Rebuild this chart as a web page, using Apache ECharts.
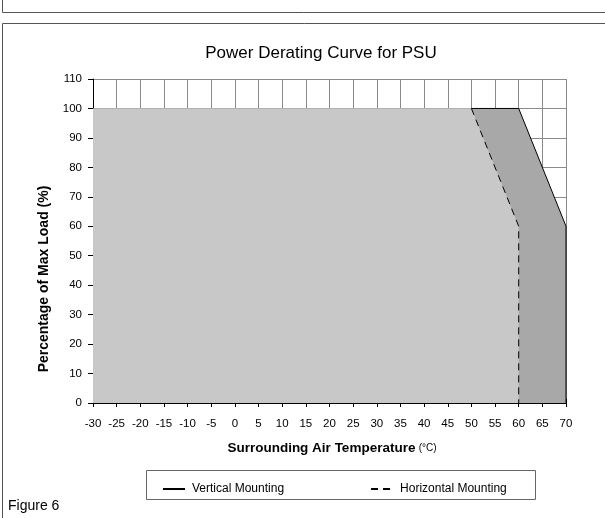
<!DOCTYPE html>
<html>
<head>
<meta charset="utf-8">
<script src="https://cdn.jsdelivr.net/npm/echarts@6/dist/echarts.min.js"></script>
<style>
html,body{margin:0;padding:0;background:#fff;}
#chart{width:605px;height:518px;}
</style>
</head>
<body>
<div id="chart"></div>
<script>
// Data
const title = 'Power Derating Curve for PSU';
const xTicks = [-30, -25, -20, -15, -10, -5, 0, 5, 10, 15, 20, 25, 30, 35, 40, 45, 50, 55, 60, 65, 70];
const yTicks = [0, 10, 20, 30, 40, 50, 60, 70, 80, 90, 100, 110];
const seriesNames = ['Vertical Mounting', 'Horizontal Mounting'];
const verticalTemp = [-30, 50, 60, 70, 70];
const verticalLoad = [100, 100, 100, 60, 0];
const horizontalTemp = [-30, 50, 60, 60];
const horizontalLoad = [100, 100, 60, 0];

const FONT = '"Liberation Sans", Arial, sans-serif';
const pairs = (xs, ys) => xs.map((x, i) => [x, ys[i]]);
const vData = pairs(verticalTemp, verticalLoad);
const hData = pairs(horizontalTemp, horizontalLoad);

const xMin = xTicks[0], xMax = xTicks[xTicks.length - 1];
const yMin = yTicks[0], yMax = yTicks[yTicks.length - 1];

const chart = echarts.init(document.getElementById('chart'), null, {renderer: 'canvas'});
const baseX = {
  type: 'value', min: xMin, max: xMax, interval: 5, position: 'bottom',
  axisLine: {show: true, onZero: false, lineStyle: {color: '#000', width: 1}},
  axisTick: {show: true, length: 4, lineStyle: {color: '#000'}}
};
const baseY = {
  type: 'value', min: yMin, max: yMax, interval: 10, position: 'left',
  axisLine: {show: true, onZero: false, lineStyle: {color: '#000', width: 1}},
  axisTick: {show: true, length: 5, lineStyle: {color: '#000'}}
};
chart.setOption({
  animation: false,
  backgroundColor: '#fff',
  title: {
    text: title, left: 316, top: 40, textAlign: 'center',
    textStyle: {fontFamily: FONT, fontSize: 17, fontWeight: 'normal', color: '#000'}
  },
  grid: {left: 93, top: 79, width: 473, height: 324},
  xAxis: [
    Object.assign({}, baseX, {
      axisLabel: {margin: 15, fontFamily: FONT, fontSize: 11.5, color: '#000'},
      splitLine: {show: true, lineStyle: {color: '#8a8a8a', width: 1}}
    }),
    Object.assign({}, baseX, {
      axisTick: {show: true, inside: true, length: 4, lineStyle: {color: '#000'}},
      axisLabel: {show: false}, splitLine: {show: false}
    })
  ],
  yAxis: [
    Object.assign({}, baseY, {
      axisLabel: {margin: 11, fontFamily: FONT, fontSize: 11.5, color: '#000'},
      splitLine: {show: true, lineStyle: {color: '#8a8a8a', width: 1}}
    })
  ],
  legend: {
    data: seriesNames.map(n => ({name: n})),
    left: 157, top: 478, itemWidth: 22, itemHeight: 12, itemGap: 86,
    itemStyle: {opacity: 0},
    textStyle: {fontFamily: FONT, fontSize: 12, color: '#000', padding: [0, 0, 0, 2]},
    selectedMode: false
  },
  series: [
    {
      name: 'vertical-area', type: 'line', data: vData, symbol: 'none',
      lineStyle: {width: 0, opacity: 0}, areaStyle: {color: '#a8a8a8', opacity: 1}, z: 2, silent: true
    },
    {
      name: 'horizontal-area', type: 'line', data: hData, symbol: 'none',
      lineStyle: {width: 0, opacity: 0}, areaStyle: {color: '#c8c8c8', opacity: 1}, z: 3, silent: true
    },
    {
      name: seriesNames[0], type: 'line', data: vData.slice(1), symbol: 'none', color: '#000',
      lineStyle: {color: '#000', width: 1, type: 'solid'}, z: 5
    },
    {
      name: seriesNames[1], type: 'line', data: hData.slice(1), symbol: 'none', color: '#000',
      lineStyle: {color: '#000', width: 1, type: [7, 5]}, z: 5
    }
  ],
  graphic: [
    {type: 'polyline', shape: {points: [[2.5, 0], [2.5, 12.5], [605, 12.5]]}, style: {stroke: '#555', fill: null, lineWidth: 1}},
    {type: 'rect', shape: {x: 2.5, y: 23.5, width: 700, height: 600}, style: {stroke: '#555', fill: null, lineWidth: 1}, z: -1},
    {type: 'rect', shape: {x: 146.5, y: 470.5, width: 389, height: 29}, style: {stroke: '#666', fill: null, lineWidth: 1}},
    {type: 'text', left: 8, top: 499, style: {text: 'Figure 6', font: '14px ' + FONT, fill: '#000'}},
    {type: 'text', x: 44, y: 279, rotation: Math.PI / 2,
      style: {text: 'Percentage of Max Load (%)', font: 'bold 14px ' + FONT, fill: '#000', align: 'center', verticalAlign: 'middle'}},
    {type: 'text', x: 332, y: 448,
      style: {
        text: '{b|Surrounding Air Temperature} {s|(°C)}',
        align: 'center', verticalAlign: 'middle',
        rich: {
          b: {fontFamily: FONT, fontSize: 13.5, fontWeight: 'bold', fill: '#000'},
          s: {fontFamily: FONT, fontSize: 10, fill: '#000'}
        }
      }}
  ]
});
</script>
</body>
</html>
